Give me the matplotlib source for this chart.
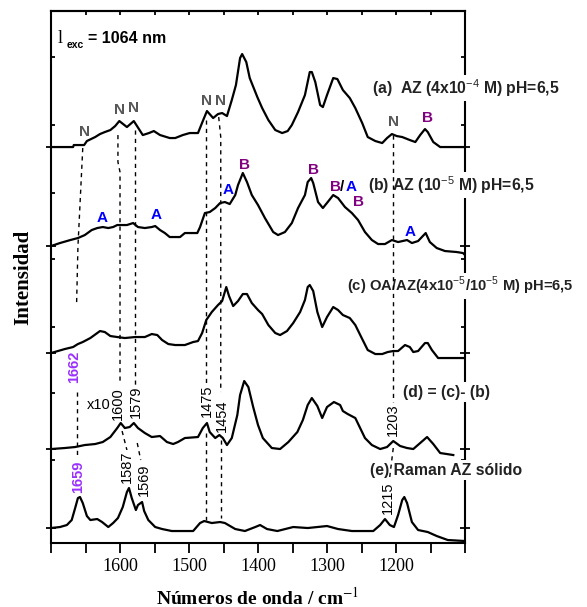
import matplotlib
matplotlib.use('Agg')
import matplotlib.pyplot as plt
from matplotlib.ticker import MultipleLocator, FixedLocator

plt.rcParams['font.family'] = ['Liberation Sans', 'DejaVu Sans']
plt.rcParams['mathtext.fontset'] = 'custom'
plt.rcParams['mathtext.rm'] = 'Liberation Sans'
plt.rcParams['mathtext.bf'] = 'Liberation Sans:bold'

# spectra: wavenumber (cm-1) and intensity above each baseline (a.u.)
wn_a = [1700, 1668, 1667, 1652, 1648, 1636, 1629, 1622, 1614, 1607, 1601, 1590, 1580, 1567, 1558,
        1551, 1542, 1528, 1520, 1509, 1499, 1487, 1480, 1474, 1465, 1458, 1452, 1445, 1438, 1432,
        1426, 1423, 1417, 1412, 1401, 1394, 1385, 1375, 1365, 1357, 1351, 1342, 1332, 1325, 1322,
        1317, 1310, 1306, 1300, 1291, 1285, 1277, 1267, 1259, 1249, 1241, 1230, 1220, 1213, 1206,
        1199, 1191, 1180, 1172, 1165, 1158, 1154, 1146, 1136, 1100]
int_a = [0, 0, 2, 2, 6, 10, 13, 15, 17, 21, 26, 20, 26, 12, 14,
         16, 12, 9, 9, 12, 14, 14, 26, 36, 29, 33, 34, 31, 47, 62,
         89, 93, 85, 69, 50, 39, 27, 17, 14, 16, 22, 35, 52, 75, 75,
         65, 42, 40, 52, 69, 68, 57, 49, 39, 24, 10, 6, 4, 9, 13,
         11, 10, 7, 5, 12, 18, 15, 5, 0, 0]

wn_b = [1700, 1687, 1672, 1661, 1651, 1641, 1633, 1625, 1617, 1610, 1604, 1590, 1581, 1574, 1564,
        1554, 1549, 1542, 1535, 1528, 1513, 1506, 1488, 1484, 1477, 1470, 1462, 1455, 1448, 1441,
        1433, 1429, 1422, 1416, 1409, 1400, 1390, 1378, 1371, 1361, 1351, 1342, 1332, 1328, 1323,
        1320, 1313, 1306, 1299, 1291, 1284, 1274, 1264, 1255, 1245, 1235, 1226, 1216, 1206, 1197,
        1184, 1177, 1168, 1157, 1151, 1141, 1129, 1112, 1103, 1100]
int_b = [0, 3, 6, 8, 11, 16, 18, 19, 18, 19, 21, 21, 23, 19, 18,
         19, 20, 16, 13, 9, 9, 13, 13, 19, 33, 34, 38, 43, 44, 42,
         51, 61, 73, 64, 51, 41, 28, 14, 11, 14, 23, 38, 51, 64, 68,
         63, 44, 38, 44, 51, 48, 39, 33, 26, 14, 6, 2, 2, 6, 4,
         6, 3, 5, 13, 4, -2, -5, -6, -7, -9]

wn_c = [1700, 1690, 1680, 1668, 1661, 1654, 1643, 1633, 1629, 1622, 1614, 1604, 1593, 1578, 1564,
        1554, 1546, 1539, 1530, 1520, 1506, 1494, 1487, 1481, 1475, 1467, 1458, 1452, 1446, 1442,
        1436, 1429, 1422, 1416, 1409, 1400, 1394, 1385, 1375, 1368, 1358, 1349, 1339, 1332, 1328,
        1325, 1320, 1314, 1307, 1300, 1291, 1284, 1277, 1267, 1259, 1249, 1241, 1230, 1220, 1212,
        1204, 1197, 1187, 1180, 1175, 1168, 1158, 1154, 1148, 1139, 1125, 1100]
int_c = [0, 2, 4, 6, 9, 11, 15, 20, 22, 21, 17, 16, 15, 16, 16,
         19, 18, 13, 9, 8, 8, 11, 12, 20, 33, 41, 48, 52, 66, 57,
         47, 52, 59, 59, 50, 43, 39, 28, 20, 18, 22, 30, 41, 53, 66,
         68, 62, 41, 26, 36, 46, 43, 38, 35, 28, 14, 3, -1, -1, 1,
         2, 2, 8, 6, 1, 2, 10, 10, 3, -5, -5, -5]

wn_d = [1700, 1680, 1665, 1651, 1636, 1625, 1614, 1604, 1599, 1593, 1586, 1580, 1574, 1564, 1554,
        1542, 1532, 1523, 1516, 1506, 1487, 1480, 1474, 1470, 1462, 1456, 1451, 1445, 1438, 1430,
        1426, 1420, 1414, 1407, 1400, 1393, 1380, 1368, 1356, 1343, 1335, 1328, 1322, 1314, 1307,
        1300, 1290, 1281, 1277, 1270, 1259, 1252, 1245, 1235, 1223, 1213, 1204, 1194, 1184, 1175,
        1165, 1155, 1146, 1136, 1117]
int_d = [0, 1, 2, 4, 5, 7, 12, 21, 26, 21, 22, 26, 21, 16, 12,
         13, 7, 5, 7, 11, 12, 21, 26, 17, 11, 14, 11, 4, 11, 34,
         54, 68, 62, 42, 24, 11, 1, 0, 7, 17, 29, 44, 51, 43, 31,
         42, 47, 44, 38, 35, 31, 21, 11, 4, 0, 2, 8, 3, 1, 0,
         6, 12, 5, -4, -6]

wn_e = [1700, 1687, 1677, 1670, 1665, 1661, 1658, 1654, 1648, 1643, 1633, 1626, 1617, 1610, 1603,
        1596, 1590, 1587, 1583, 1577, 1574, 1568, 1565, 1559, 1549, 1539, 1525, 1494, 1484, 1478,
        1467, 1455, 1448, 1433, 1419, 1404, 1397, 1387, 1372, 1349, 1328, 1300, 1284, 1264, 1233,
        1223, 1216, 1209, 1203, 1197, 1191, 1188, 1184, 1177, 1168, 1154, 1141, 1125, 1100]
int_e = [0, 1, 3, 8, 20, 30, 31, 25, 12, 8, 9, 6, 1, 5, 10,
         21, 36, 40, 30, 18, 23, 26, 17, 8, 1, -1, -3, -3, 5, 7,
         5, 6, 5, -1, -3, 1, 3, -1, -3, 1, 0, 2, -1, -3, -3,
         3, 9, 3, 1, 13, 28, 31, 25, 6, -2, -4, -8, -12, -13]

spectra = [(wn_a, int_a), (wn_b, int_b), (wn_c, int_c), (wn_d, int_d), (wn_e, int_e)]
offsets = [396, 297, 190, 94, 15]
trace_labels = ['(a)  AZ (4x10$^{-4}$ M) pH=6,5',
                '(b) AZ (10$^{-5}$ M) pH=6,5',
                '(c) OA/AZ(4x10$^{-5}$/10$^{-5}$ M) pH=6,5',
                '(d) = (c)- (b)',
                '(e) Raman AZ sólido']
label_pos = [(1235, 455), (1240, 358), (1271, 257), (1190, 151), (1238, 73)]
label_size = [11.3, 11.3, 10.6, 11.3, 11.3]

# band assignments: (wavenumber, height, letter)
bands = [(1651, 411, 'N'), (1601, 433, 'N'), (1580, 435, 'N'), (1474, 442, 'N'), (1455, 442, 'N'),
         (1204, 421, 'N'), (1154, 425, 'B'),
         (1626, 325, 'A'), (1548, 328, 'A'), (1443, 353, 'A'), (1419, 378, 'B'), (1320, 373, 'B'),
         (1288, 356, 'B'), (1265, 356, 'A'), (1254, 341, 'B'), (1180, 311, 'A')]
band_colors = {'N': '#575757', 'A': '#0000ff', 'B': '#800080'}

# peak positions marked with vertical numbers: (wavenumber, height, text, highlighted)
peaks = [(1667, 176, '1662', True), (1661, 66, '1659', True),
         (1603, 139, '1600', False), (1577, 141, '1579', False),
         (1474, 142, '1475', False), (1452, 127, '1454', False),
         (1590, 76, '1587', False), (1565, 63, '1569', False),
         (1204, 123, '1203', False), (1212, 45, '1215', False)]

# dashed guides joining the same band across spectra
guides = [([1654, 1661, 1663], [395, 296, 237]), ([1662, 1662], [151, 88]),
          ([1603, 1603, 1600, 1600], [408, 381, 371, 161]), ([1597, 1590], [112, 93]),
          ([1578, 1578], [413, 158]), ([1575, 1570], [100, 83]),
          ([1475, 1475], [423, 160]), ([1475, 1475], [110, 23]),
          ([1457, 1454, 1454], [426, 406, 151]), ([1454, 1454], [103, 25]),
          ([1204, 1204], [408, 141]), ([1204, 1210], [95, 61])]

fig = plt.figure(figsize=(5.87, 6.07), dpi=100)
ax = fig.add_axes([0.0869, 0.1054, 0.7053, 0.8764])

for (wn, inten), off in zip(spectra, offsets):
    ax.plot(wn, [v + off for v in inten], color='black', lw=1.6, zorder=2)

for xs, ys in guides:
    ax.plot(xs, ys, color='black', lw=1.0, dashes=(3, 3), zorder=4)

for (x, y), txt, fs in zip(label_pos, trace_labels, label_size):
    ax.text(x, y, txt, fontsize=fs, fontweight='bold', color='#222222', ha='left', va='center',
            zorder=3, bbox=dict(facecolor='white', edgecolor='none', pad=1.5))

for x, y, letter in bands:
    ax.text(x, y, letter, fontsize=11, fontweight='bold', color=band_colors[letter],
            ha='center', va='center', zorder=5)
ax.text(1278, 356, '/', fontsize=11, fontweight='bold', color='black', ha='center', va='center', zorder=5)

for x, y, txt, hl in peaks:
    ax.text(x, y, txt, rotation=90, fontsize=10.5, ha='center', va='center', zorder=5,
            color='#9b30ff' if hl else 'black', fontweight='bold' if hl else 'normal',
            bbox=dict(facecolor='white', edgecolor='none', pad=0.5))

ax.text(1648, 138, 'x10', fontsize=10.5, ha='left', va='center')

ax.text(1691, 505, 'l', fontsize=13, family='Liberation Serif', ha='left', va='center')
ax.text(1677, 498, 'exc', fontsize=7.5, fontweight='bold', ha='left', va='center')
ax.text(1647, 505, '= 1064 nm', fontsize=11.5, fontweight='bold', ha='left', va='center')

ax.set_xlim(1700, 1100)
ax.set_ylim(0, 532)

ax.xaxis.set_major_locator(FixedLocator([1600, 1500, 1400, 1300, 1200]))
ax.xaxis.set_minor_locator(MultipleLocator(50))
ax.tick_params(axis='x', which='both', direction='out', length=7, width=1.3,
               labelsize=13, labelfontfamily='Liberation Serif', pad=4)
sec = ax.secondary_xaxis('top')
sec.xaxis.set_major_locator(MultipleLocator(50))
sec.tick_params(direction='in', length=3, width=1.3, labeltop=False)
sec.spines['top'].set_linewidth(1.5)

ax.yaxis.set_major_locator(FixedLocator(offsets))
ax.yaxis.set_minor_locator(FixedLocator([486, 418, 350, 284, 216, 150, 83]))
ax.tick_params(axis='y', which='major', direction='inout', length=7, width=1.3, right=True,
               labelleft=False)
ax.tick_params(axis='y', which='minor', direction='in', length=3, width=1.3, right=True)

for s in ax.spines.values():
    s.set_linewidth(1.5)

ax.set_xlabel('Números de onda / cm$^{-1}$', fontsize=14, fontweight='bold',
              family='Liberation Serif', math_fontfamily='stix', labelpad=8)
ax.set_ylabel('Intensidad', fontsize=15, fontweight='bold', family='Liberation Serif', labelpad=9)

fig.savefig('out.png', dpi=100)
